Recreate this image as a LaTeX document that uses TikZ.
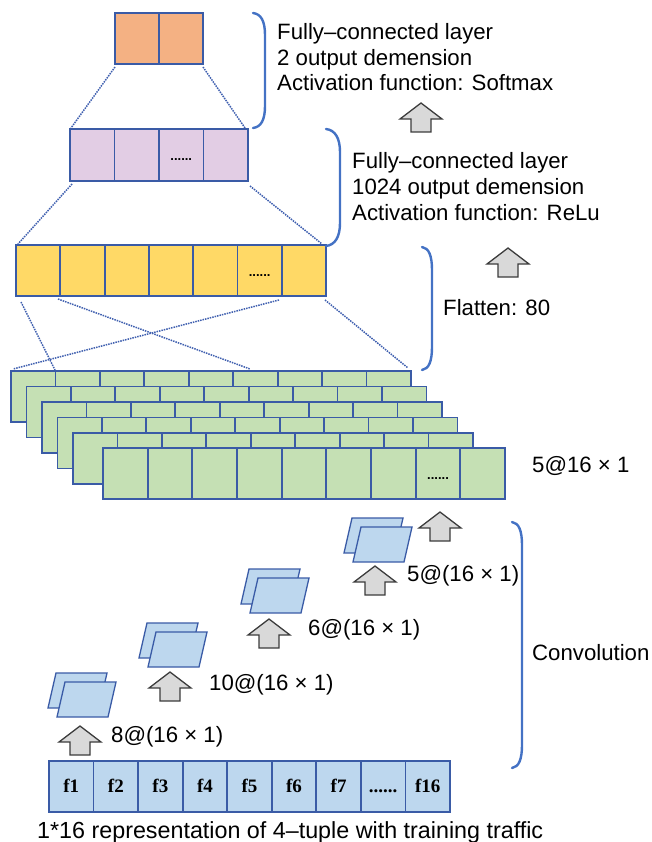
\documentclass[tikz,border=0pt]{standalone}
\usepackage{fontspec}
\setmainfont{Liberation Sans}
\newfontfamily\fserif{Liberation Serif}
\newcommand\sixdots{......}
\definecolor{edge}{HTML}{3A5BA6}
\definecolor{bracec}{HTML}{4472C4}
\definecolor{dotc}{HTML}{3F5FAF}
\definecolor{orangef}{HTML}{F4B183}
\definecolor{purplef}{HTML}{E2CDE4}
\definecolor{yellowf}{HTML}{FFD966}
\definecolor{greenf}{HTML}{C5E0B4}
\definecolor{bluef}{HTML}{BDD7EE}
\definecolor{arrowf}{HTML}{D9D9D9}
\definecolor{arrowd}{HTML}{3C3C3C}
\begin{document}
\begin{tikzpicture}[x=1pt,y=-1pt,
  cell/.style={draw=edge,line width=1.8pt,inner sep=0pt,outer sep=0pt,anchor=north west,
    text height=12pt,text depth=0pt,font=\bfseries\fontsize{13}{13}\selectfont},
  incell/.style={cell,fill=bluef,minimum width=44.56pt,minimum height=51pt,
    font=\fserif\bfseries\fontsize{19}{19}\selectfont},
  lbl/.style={anchor=base west,inner sep=0pt,font=\fontsize{22.2}{25}\selectfont},
  fcbrace/.style={draw=bracec,line width=2.4pt,line cap=round},
  dl/.style={draw=dotc,densely dotted,line width=1.5pt},
  para/.style={draw=edge,line width=1.3pt,fill=bluef,line join=miter},
  uparr/.pic={\draw[arrowd,fill=arrowf,line width=1.3pt,line join=miter]
    (-10,29) -- (-10,16) -- (-21,16) -- (0,0) -- (21,16) -- (10,16) -- (10,29) -- cycle;}
]
\useasboundingbox (0,0) rectangle (652,842);

% ---------- orange output layer ----------
\foreach \i in {0,1}
  \node[cell,fill=orangef,minimum width=44pt,minimum height=51pt] (o\i) at (115+\i*44,13) {};

% ---------- purple FC layer ----------
\foreach \t [count=\i from 0] in {{},{},\sixdots,{}}
  \node[cell,fill=purplef,minimum width=44.5pt,minimum height=52pt] (p\i) at (70+\i*44.5,129) {\t};

% ---------- yellow flatten layer ----------
\foreach \t [count=\i from 0] in {{},{},{},{},{},\sixdots,{}}
  \node[cell,fill=yellowf,minimum width=44.3pt,minimum height=51pt] (y\i) at (16+\i*44.3,245) {\t};

% ---------- green feature maps ----------
\foreach \L in {0,1,2,3,4}{
  \foreach \i in {0,1,2,3,4,5,6,7,8}
    \node[cell,fill=greenf,minimum width=44.44pt,minimum height=51pt] (g\L-\i) at (11+15.5*\L+\i*44.44,371+15.5*\L) {};
}
\foreach \t [count=\i from 0] in {{},{},{},{},{},{},{},\sixdots,{}}
  \node[cell,fill=greenf,minimum width=44.67pt,minimum height=51pt] (gf\i) at (103+\i*44.67,448) {\t};

% ---------- input ----------
\foreach \t [count=\i from 0] in {f1,f2,f3,f4,f5,f6,f7,\sixdots,f16}
  \node[incell] (in\i) at (49+\i*44.56,761) {\t};

% ---------- dotted connectors ----------
\coordinate (a1) at (115,67); \coordinate (a2) at (71,128);
\coordinate (a3) at (203,67); \coordinate (a4) at (245,128);
\coordinate (b1) at (72,184); \coordinate (b2) at (18,244);
\coordinate (b3) at (250,186); \coordinate (b4) at (322,244);
\coordinate (c1) at (21,302); \coordinate (c2) at (55,370);
\coordinate (c3) at (58,299); \coordinate (c4) at (250,369);
\coordinate (c5) at (279,300); \coordinate (c6) at (13,369);
\coordinate (c7) at (325,300); \coordinate (c8) at (408,368);
\draw[dl] (a1) -- (a2); \draw[dl] (a3) -- (a4);
\draw[dl] (b1) -- (b2); \draw[dl] (b3) -- (b4);
\draw[dl] (c1) -- (c2); \draw[dl] (c3) -- (c4);
\draw[dl] (c5) -- (c6); \draw[dl] (c7) -- (c8);

% ---------- braces ----------
\draw[fcbrace] (253,13) .. controls (261,14) and (265,21) .. (265,35) -- (265,106) .. controls (265,120) and (261,127) .. (253,128);
\draw[fcbrace] (326,129) .. controls (335,130) and (340,138) .. (340,152) -- (340,223) .. controls (340,237) and (335,245) .. (326,246);
\draw[fcbrace] (422,247) .. controls (429,248) and (432,256) .. (432,270) -- (432,347) .. controls (432,361) and (429,369) .. (422,370);
\draw[fcbrace] (512,522) .. controls (519,523) and (522,531) .. (522,545) -- (522,745) .. controls (522,759) and (519,767) .. (512,768);

% ---------- parallelograms (conv feature maps) ----------
\foreach \x/\y in {57/717,148/667,250/613,353/562}{
  \draw[para] (\x-9,\y-9) -- (\x+42,\y-9) -- (\x+50,\y-44) -- (\x-1,\y-44) -- cycle;
  \draw[para] (\x,\y) -- (\x+51,\y) -- (\x+59,\y-35) -- (\x+8,\y-35) -- cycle;
}

% ---------- block arrows ----------
\pic at (80,726) {uparr};
\pic at (170,672) {uparr};
\pic at (269,619) {uparr};
\pic at (375,566) {uparr};
\pic at (440,512) {uparr};
\pic at (421,103) {uparr};
\pic at (508,248) {uparr};

% ---------- texts ----------
\node[lbl] (t1) at (277,40) {Fully–connected layer};
\node[lbl] (t2) at (277,66) {2 output demension};
\node[lbl] (t3) at (277,91) {Activation function: Softmax};
\node[lbl] (t4) at (352,169) {Fully–connected layer};
\node[lbl] (t5) at (352,195) {1024 output demension};
\node[lbl] (t6) at (352,220) {Activation function: ReLu};
\node[lbl] (t7) at (443,315) {Flatten: 80};
\node[lbl] (t8) at (532,472) {5@16 × 1};
\node[lbl] (t9) at (532,660) {Convolution};
\node[lbl] (l1) at (111,742) {8@(16 × 1)};
\node[lbl] (l2) at (209,690) {10@(16 × 1)};
\node[lbl] (l3) at (308,635) {6@(16 × 1)};
\node[lbl] (l4) at (407,581) {5@(16 × 1)};
\node[lbl,font=\fontsize{23.3}{25}\selectfont] (cap) at (37,838) {1*16 representation of 4–tuple with training traffic};
\end{tikzpicture}
\end{document}
